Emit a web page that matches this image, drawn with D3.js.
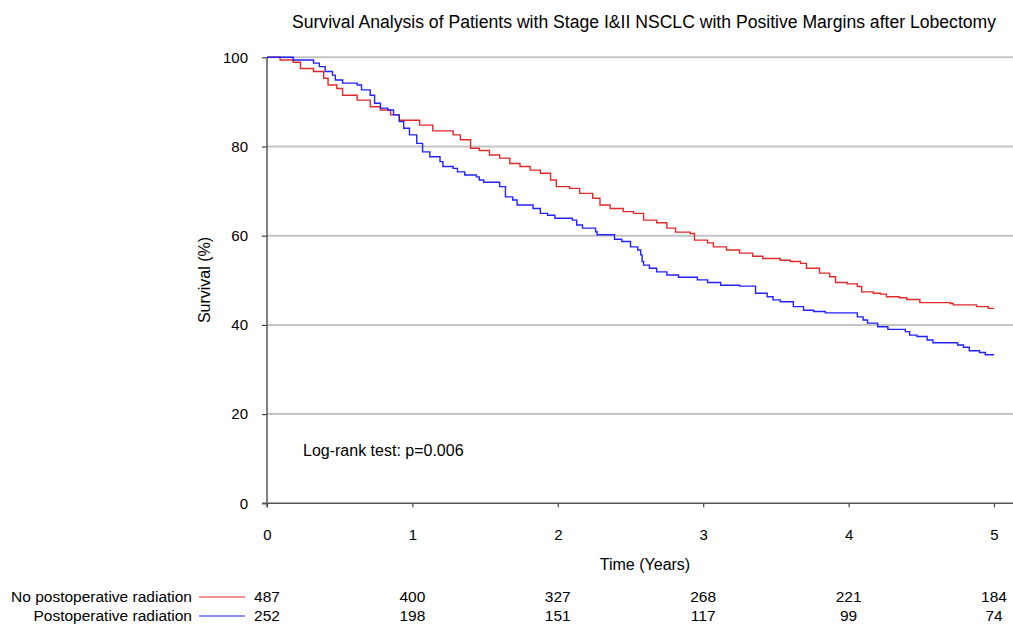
<!DOCTYPE html>
<html><head><meta charset="utf-8">
<script src="https://cdn.jsdelivr.net/npm/d3@7"></script>
<style>
body{margin:0;background:#fff;}
text{font-family:Arial,"Liberation Sans",sans-serif;fill:#000;}
</style></head>
<body><svg id="c" width="1013" height="624"></svg>
<script>
const title = "Survival Analysis of Patients with Stage I&II NSCLC with Positive Margins after Lobectomy";
const seriesNames = ["No postoperative radiation", "Postoperative radiation"];
const xTicks = [0,1,2,3,4,5];
const yTicks = [0,20,40,60,80,100];
const noRtTime = [0,0.09,0.18,0.23,0.32,0.39,0.42,0.48,0.52,0.62,0.71,0.78,0.85,0.91,1.05,1.14,1.28,1.33,1.40,1.46,1.53,1.60,1.67,1.74,1.81,1.88,1.95,1.99,2.08,2.15,2.24,2.29,2.36,2.45,2.52,2.59,2.68,2.75,2.81,2.91,2.94,3.03,3.07,3.16,3.25,3.34,3.41,3.53,3.60,3.67,3.71,3.80,3.87,3.91,3.99,4.06,4.09,4.17,4.22,4.26,4.35,4.40,4.49,4.70,4.72,4.88,4.96,5.0];
const noRtSurv = [100,99.4,98.9,97.5,96.8,95.3,93.8,93.0,91.5,90.4,88.9,88.2,87.1,85.9,84.8,83.5,82.6,81.5,79.6,79.1,78.1,77.4,76.2,75.5,74.7,74.0,72.5,71.0,70.6,69.5,68.4,66.9,66.1,65.4,65.0,63.5,62.9,61.7,60.8,60.5,59.0,58.4,57.5,56.8,56.1,55.4,54.9,54.5,54.2,53.8,52.7,51.6,50.8,49.5,49.2,48.6,47.4,47.1,46.9,46.3,46.1,45.7,45.0,44.8,44.5,44.1,43.7,43.7];
const rtTime = [0,0.18,0.32,0.36,0.40,0.45,0.47,0.52,0.62,0.65,0.71,0.74,0.78,0.83,0.87,0.91,0.94,0.98,1.03,1.07,1.12,1.19,1.21,1.28,1.31,1.36,1.44,1.46,1.49,1.60,1.64,1.69,1.72,1.83,1.88,1.93,1.98,2.10,2.13,2.17,2.26,2.27,2.39,2.44,2.50,2.55,2.57,2.58,2.59,2.63,2.68,2.75,2.83,2.96,3.03,3.12,3.25,3.36,3.44,3.48,3.53,3.62,3.69,3.76,3.84,4.06,4.10,4.13,4.20,4.27,4.39,4.42,4.47,4.54,4.58,4.75,4.79,4.83,4.90,4.94,5.0];
const rtSurv = [100,99.4,98.7,97.9,96.8,96.0,94.9,94.2,93.8,92.7,91.5,89.7,88.6,88.2,87.1,85.6,84.1,82.6,80.7,78.8,77.7,76.6,75.5,75.1,74.3,73.6,73.2,72.5,72.0,71.0,68.7,68.0,66.9,66.1,65.0,64.6,63.9,63.5,62.4,61.7,60.9,60.2,59.2,58.7,57.5,56.8,55.7,54.2,53.4,52.7,51.9,51.2,50.7,50.1,49.5,48.9,48.7,47.1,46.3,45.6,45.2,44.1,43.3,43.0,42.7,41.8,41.1,40.4,39.6,39.0,38.5,37.7,37.4,36.6,36.0,35.5,35.0,34.2,33.8,33.3,33.3];
const noRtAtRisk = [487,400,327,268,221,184];
const rtAtRisk = [252,198,151,117,99,74];
const colors = ["#e02a2a","#2222ff"];
const logRank = "Log-rank test: p=0.006";

const FONT = "Arial, 'Liberation Sans', sans-serif";
const svg = d3.select("#c");
const x = d3.scaleLinear().domain([0,5]).range([267,994]);
const y = d3.scaleLinear().domain([0,100]).range([503.3,57.3]);

// grid
svg.append("g").selectAll("line").data(yTicks.filter(d=>d>0)).join("line")
  .attr("x1",267).attr("x2",1013).attr("y1",d=>y(d)).attr("y2",d=>y(d))
  .attr("stroke","#c4c4c4").attr("stroke-width",2);

// y axis
const ya = svg.append("g").attr("transform","translate(267,0)")
  .call(d3.axisLeft(y).tickValues(yTicks).tickSize(5).tickPadding(14).tickFormat(d3.format("d")));
ya.select(".domain").remove();
ya.selectAll(".tick line").attr("stroke","#444").attr("stroke-width",1.2);
ya.selectAll("text").style("font-size","15px").style("font-family",FONT).attr("fill","#000");
svg.append("line").attr("x1",267).attr("x2",267).attr("y1",y(100)).attr("y2",y(0)+4)
  .attr("stroke","#555").attr("stroke-width",1.5);

// x axis
const xa = svg.append("g").attr("transform","translate(0,503.3)")
  .call(d3.axisBottom(x).tickValues(xTicks).tickSize(4).tickPadding(22).tickFormat(d3.format("d")));
xa.select(".domain").remove();
xa.selectAll(".tick line").attr("stroke","#444").attr("stroke-width",1.2);
xa.selectAll("text").style("font-size","15px").style("font-family",FONT).attr("fill","#000");
svg.append("line").attr("x1",262).attr("x2",1013).attr("y1",y(0)).attr("y2",y(0))
  .attr("stroke","#555").attr("stroke-width",1.5);

// curves
const line = d3.line().x(d=>x(d[0])).y(d=>y(d[1])).curve(d3.curveStepAfter);
const series = [d3.zip(noRtTime,noRtSurv), d3.zip(rtTime,rtSurv)];
series.forEach((s,i)=>{
  svg.append("path").datum(s).attr("d",line).attr("fill","none")
    .attr("stroke",colors[i]).attr("stroke-width",1.4);
});

// titles
svg.append("text").attr("x",644).attr("y",28).attr("text-anchor","middle")
  .style("font-size","17.6px").text(title);
svg.append("text").attr("transform","translate(210,280) rotate(-90)").attr("text-anchor","middle")
  .style("font-size","16px").text("Survival (%)");
svg.append("text").attr("x",645).attr("y",570).attr("text-anchor","middle")
  .style("font-size","16px").text("Time (Years)");
svg.append("text").attr("x",303).attr("y",456).style("font-size","16px").text(logRank);

// risk table
const rows = [noRtAtRisk, rtAtRisk];
const rowY = [602, 621];
rows.forEach((r,i)=>{
  svg.append("text").attr("x",192).attr("y",rowY[i]).attr("text-anchor","end")
    .style("font-size","15.5px").text(seriesNames[i]);
  svg.append("line").attr("x1",199).attr("x2",245).attr("y1",rowY[i]-5).attr("y2",rowY[i]-5)
    .attr("stroke",colors[i]).attr("stroke-width",1.2);
  svg.append("g").selectAll("text").data(r).join("text")
    .attr("x",(d,j)=>x(xTicks[j])).attr("y",rowY[i]).attr("text-anchor","middle")
    .style("font-size","15.5px").text(d=>d);
});
</script></body></html>
